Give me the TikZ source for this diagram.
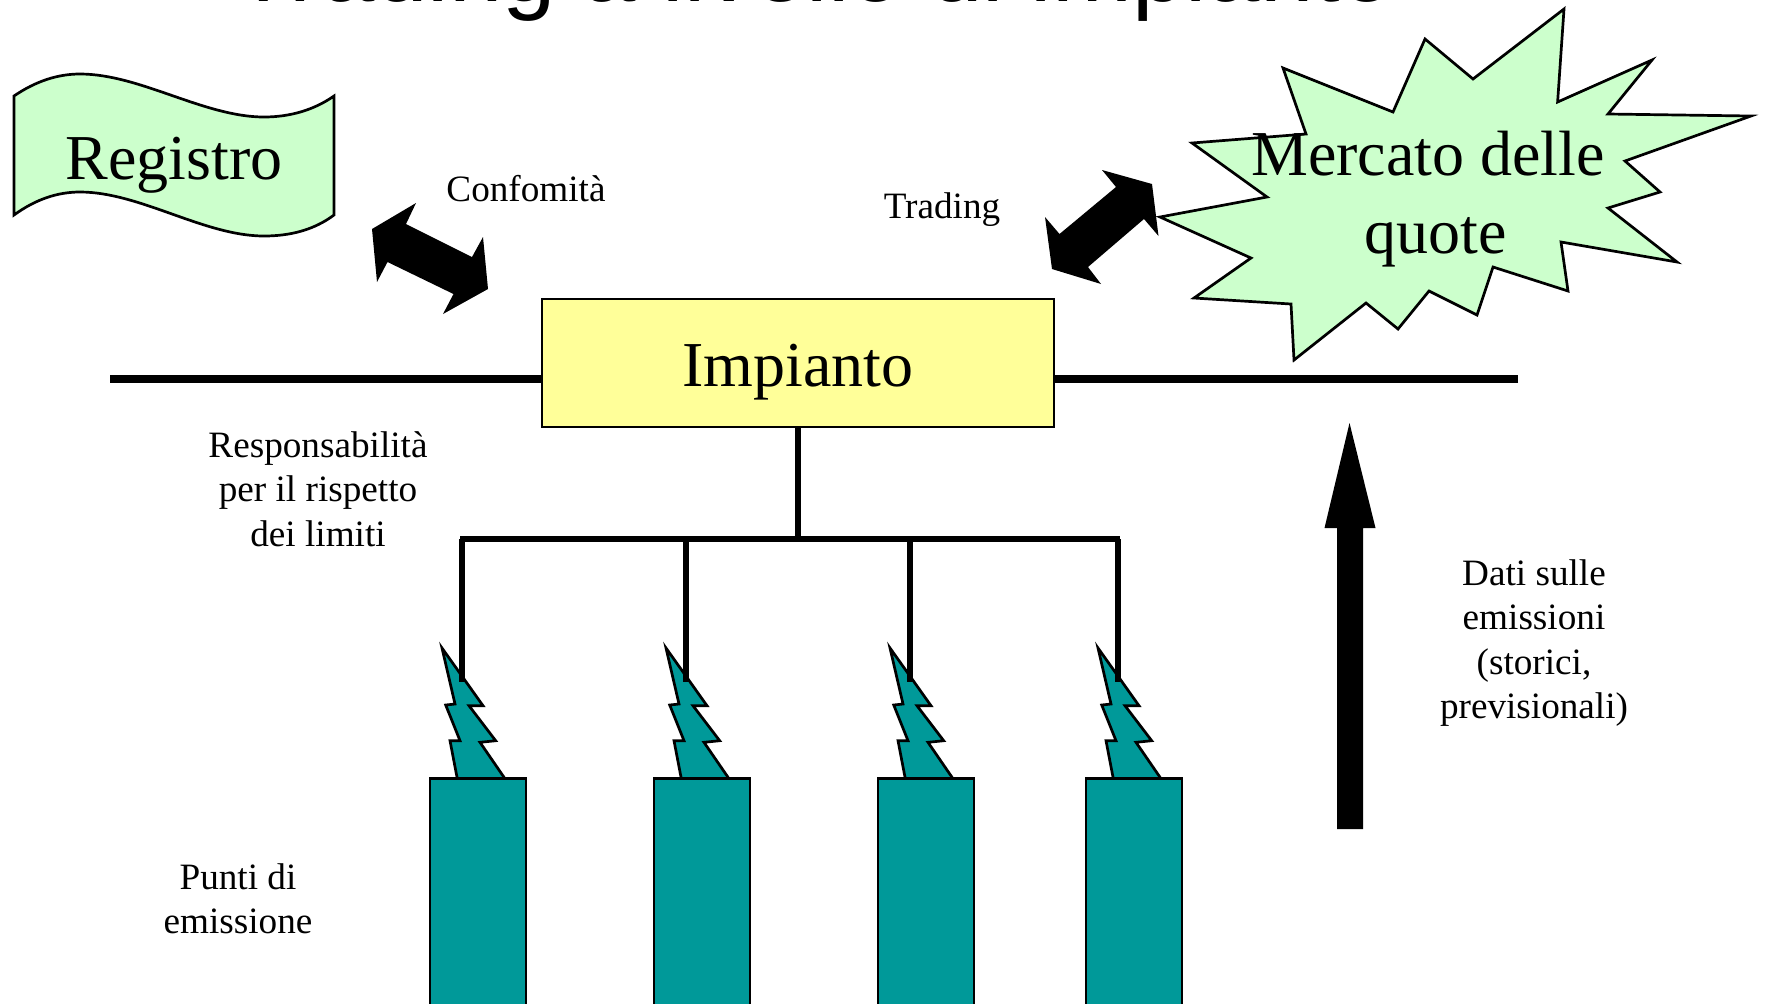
\documentclass[tikz,border=0pt]{standalone}
\usepackage{fontspec}
\setmainfont{Liberation Serif}
\newfontfamily\titlefont{Liberation Sans}
\definecolor{tealfill}{HTML}{009999}
\definecolor{greenfill}{HTML}{CCFFCC}
\definecolor{yellowfill}{HTML}{FFFF99}
\tikzset{
  outline/.style={draw=black,line width=1.35pt,line join=miter},
  big/.style={font=\fontsize{32}{39}\selectfont,align=center,inner sep=0pt},
  small/.style={font=\fontsize{18.6}{22.25}\selectfont,align=center,inner sep=0pt},
  wire/.style={draw=black,line width=2.6pt},
  mainline/.style={draw=black,line width=3.6pt},
  solidarrow/.style={fill=black,draw=none},
}
\begin{document}
\begin{tikzpicture}[x=0.5pt,y=-0.5pt]
\useasboundingbox (0,0) rectangle (1765,1003);
\clip (0,0) rectangle (1765,1003);
\node[anchor=base,inner sep=0pt,font=\titlefont\fontsize{48}{52}\selectfont] (title) at (814,1) {Trading a livello di impianto};

% Registro
\path[outline,fill=greenfill] (14,96) .. controls (36,81) and (58,74) .. (80,74) .. controls (140,74) and (204,117) .. (264,117) .. controls (290,117) and (314,110) .. (334,96) -- (334,215) .. controls (314,230) and (290,236) .. (264,236) .. controls (204,236) and (140,192) .. (80,192) .. controls (58,192) and (36,199) .. (14,215) -- cycle;
\node[big] (registro) at (174,165) {Registro};

% Mercato
\path[outline,fill=greenfill] (1564,9) -- (1557.6,102) -- (1652,60) -- (1608,114) -- (1751,116) -- (1625,161) -- (1660,192) -- (1608,208) -- (1677,262) -- (1561,242) -- (1568,291) -- (1493,267) -- (1477,315) -- (1429,291) -- (1398,329) -- (1366,303) -- (1294,360) -- (1291,304) -- (1194,298) -- (1251,258) -- (1160,217) -- (1267,197) -- (1192,143) -- (1306,134) -- (1283,68) -- (1393,112) -- (1425,39) -- (1473,79) -- cycle;
\node[big] (mercato) at (1428,199) {Mercato delle\\\hspace*{8pt}quote};

% double arrows
\fill[solidarrow] (372,229) -- (416,203) -- (406,224) -- (472,257) -- (483,237) -- (488,289) -- (443,314) -- (453.5,294) -- (387.5,262) -- (377,282) -- cycle;
\fill[solidarrow] (1152,184) -- (1158.5,236) -- (1144,219) -- (1088,267) -- (1101,284) -- (1052,269) -- (1045,217) -- (1059.5,234) -- (1116,187) -- (1102,170) -- cycle;

% up arrow
\fill[solidarrow] (1349.5,423) -- (1375.5,528) -- (1363,528) -- (1363,829) -- (1337,829) -- (1337,528) -- (1324.5,528) -- cycle;

% emission points
\foreach \i/\d in {1/0,2/224,3/448,4/656}{
  \begin{scope}[shift={(\d*0.5pt,0)}]
    \path[outline,fill=tealfill] (442,648) -- (483,705.7) -- (469,705.7) -- (495.7,740.7) -- (480,742.3) -- (505,778.7) -- (457.3,778.7) -- (450,740.7) -- (460,740.7) -- (445.7,705) -- (455,704) -- cycle;
    \path[outline,fill=tealfill] (430,778.7) rectangle (526,1020);
  \end{scope}
}

% Impianto
\node[outline,fill=yellowfill,minimum width=256pt,minimum height=64pt,inner sep=0pt] (impianto) at (798,363) {};
\node[big] (impiantotext) at (798,372.5) {Impianto};

\coordinate (lineL) at (110,379);
\coordinate (lineR) at (1518,379);
\draw[mainline] (lineL) -- (lineL -| impianto.west);
\draw[mainline] (lineR) -- (lineR -| impianto.east);

\coordinate (bus) at (798,539);
\coordinate (busL) at (460,539);
\coordinate (busR) at (1120,539);
\draw[wire] (impianto.south) -- (bus);
\draw[wire] (busL) -- (busR);
\foreach \n/\x in {a/462,b/686,c/910,d/1118}{
  \coordinate (top\n) at (\x,539);
  \coordinate (end\n) at (\x,682);
  \draw[wire] (top\n) -- (end\n);
}

% labels
\node[small] (conf) at (526,189) {Confomità};
\node[small] (trad) at (942,210) {Trading};
\node[small] (resp) at (318,489) {Responsabilità\\per il rispetto\\dei limiti};
\node[small] (dati) at (1534,643) {Dati sulle\\emissioni\\(storici,\\previsionali)};
\node[small] (punti) at (238,899) {Punti di\\emissione};
\end{tikzpicture}
\end{document}
